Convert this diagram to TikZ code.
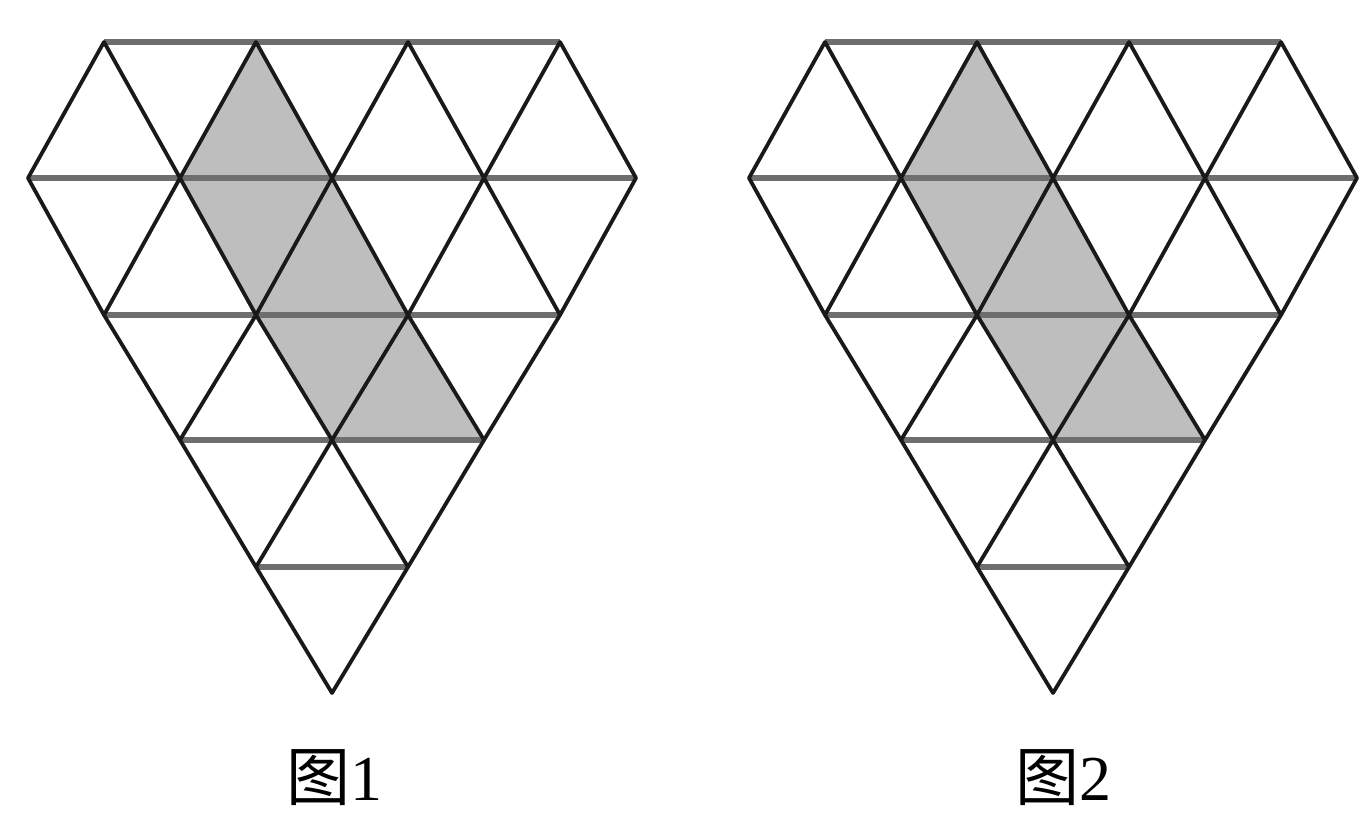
\documentclass[tikz,border=0pt]{standalone}
\usepackage{fontspec}
\setmainfont{Liberation Serif}
\newfontfamily\cjkfont{Noto Sans CJK SC}
\definecolor{shadefill}{RGB}{190,190,190}
\definecolor{hline}{RGB}{110,110,110}
\definecolor{dline}{RGB}{25,25,25}
\tikzset{
  hedge/.style={draw=hline,line width=6pt},
  dedge/.style={draw=dline,line width=3.8pt,line join=round,line cap=round},
  shadedreg/.style={fill=shadefill},
  captionlab/.style={font=\fontsize{64}{68}\selectfont,anchor=base,inner sep=0pt}
}
\begin{document}
\begin{tikzpicture}[x=1pt,y=-1pt]
\useasboundingbox (0,0) rectangle (1364,814);
\fill[white] (0,0) rectangle (1364,814);
\foreach \cx in {332,1053}{
  % shaded strip
  \fill[shadedreg] (\cx-76,42) -- (\cx,178) -- (\cx+76,315) -- (\cx+152,440)
        -- (\cx,440) -- (\cx-76,315) -- (\cx-152,178) -- cycle;
  % horizontal lines
  \draw[hedge] (\cx-228,42) -- (\cx+228,42);
  \draw[hedge] (\cx-304,178) -- (\cx+304,178);
  \draw[hedge] (\cx-228,315) -- (\cx+228,315);
  \draw[hedge] (\cx-152,440) -- (\cx+152,440);
  \draw[hedge] (\cx-76,567) -- (\cx+76,567);
  % lines going down to the right
  \draw[dedge] (\cx-304,178) -- (\cx-228,315) -- (\cx-152,440) -- (\cx-76,567) -- (\cx,693);
  \draw[dedge] (\cx-228,42) -- (\cx-152,178) -- (\cx-76,315) -- (\cx,440) -- (\cx+76,567);
  \draw[dedge] (\cx-76,42) -- (\cx,178) -- (\cx+76,315) -- (\cx+152,440);
  \draw[dedge] (\cx+76,42) -- (\cx+152,178) -- (\cx+228,315);
  \draw[dedge] (\cx+228,42) -- (\cx+304,178);
  % lines going down to the left
  \draw[dedge] (\cx+304,178) -- (\cx+228,315) -- (\cx+152,440) -- (\cx+76,567) -- (\cx,693);
  \draw[dedge] (\cx+228,42) -- (\cx+152,178) -- (\cx+76,315) -- (\cx,440) -- (\cx-76,567);
  \draw[dedge] (\cx+76,42) -- (\cx,178) -- (\cx-76,315) -- (\cx-152,440);
  \draw[dedge] (\cx-76,42) -- (\cx-152,178) -- (\cx-228,315);
  \draw[dedge] (\cx-228,42) -- (\cx-304,178);
}
\node[captionlab] (cap1) at (334,800) {{\cjkfont 图}1};
\node[captionlab] (cap2) at (1063,800) {{\cjkfont 图}2};
\end{tikzpicture}
\end{document}
